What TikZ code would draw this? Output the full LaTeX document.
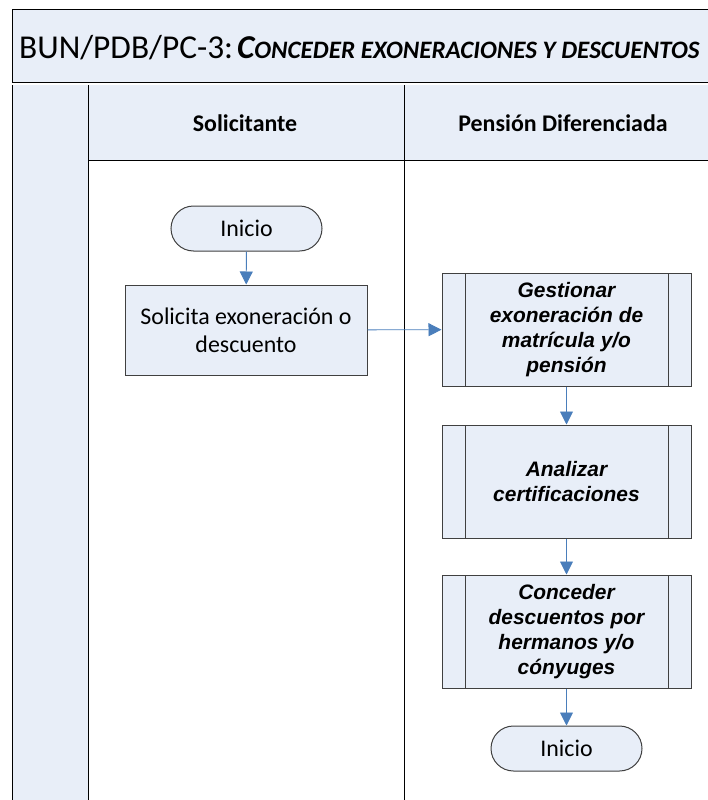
\documentclass[tikz,border=0pt]{standalone}
\usepackage{fontspec}
\setmainfont{Carlito}
\newfontfamily\arialf{Liberation Sans}
\usetikzlibrary{arrows.meta}
\definecolor{fillb}{HTML}{E8EEF8}
\definecolor{arrowb}{HTML}{4A7EBB}
\definecolor{edgec}{HTML}{404040}
\tikzset{
  lane/.style={draw=black, line width=1bp},
  shapebase/.style={draw=edgec, fill=fillb, line width=1bp, align=center, inner sep=0pt},
  terminal/.style={shapebase, rounded corners=22.5bp, minimum width=151bp, minimum height=45bp, font=\fontsize{24}{28}\selectfont},
  task/.style={shapebase, minimum width=242bp, minimum height=90bp, font=\fontsize{24}{28}\selectfont},
  subproc/.style={shapebase, minimum width=249bp, minimum height=113bp,
    font=\arialf\bfseries\itshape\fontsize{21}{25}\selectfont,
    path picture={
      \draw[edgec, line width=1bp] ([xshift=23bp]path picture bounding box.north west) -- ([xshift=23bp]path picture bounding box.south west);
      \draw[edgec, line width=1bp] ([xshift=-23bp]path picture bounding box.north east) -- ([xshift=-23bp]path picture bounding box.south east);
    }},
  flow/.style={draw=arrowb, line width=0.9bp, -{Triangle[length=13bp,width=13bp]}},
  header/.style={font=\bfseries\fontsize{24}{28}\selectfont}
}
\begin{document}
\begin{tikzpicture}[x=1bp,y=-1bp]
\useasboundingbox (0,0) rectangle (708,800);
\begin{scope}
\clip (0,0) rectangle (708,800);
% title box
\fill[fillb] (12,10) rectangle (720,82.5);
\draw[lane] (720,10) -- (12,10) -- (12,82.5) -- (720,82.5);
\draw[lane] (12,85) -- (720,85);
% left column and header
\fill[fillb] (12,85) rectangle (88,810);
\fill[fillb] (88,85) rectangle (720,160);
\draw[lane] (12,85) -- (12,810);
\draw[lane] (88,85) -- (88,810);
\draw[lane] (88,160.5) -- (720,160.5);
\draw[lane] (404,85) -- (404,810);
\end{scope}
\node[anchor=base west, inner sep=0pt, font=\fontsize{33.5}{34}\selectfont] (title) at (19,59)
  {BUN/PDB/PC-3:\hspace{4bp}{\bfseries\itshape C\fontsize{25.2}{26}\selectfont ONCEDER EXONERACIONES Y DESCUENTOS}};
\node[header] (h1) at (245,123) {Solicitante};
\node[header] (h2) at (563,123) {Pensión Diferenciada};
% shapes
\node[terminal] (start) at (246.5,228.5) {Inicio};
\node[task] (sol) at (246,330) {Solicita exoneración o\\descuento};
\node[subproc] (gest) at (566.5,329.5) {Gestionar\\exoneración de\\matrícula y/o\\pensión};
\node[subproc] (ana) at (566.5,481.5) {Analizar\\certificaciones};
\node[subproc] (conc) at (566.5,631.5) {Conceder\\descuentos por\\hermanos y/o\\cónyuges};
\node[terminal] (fin) at (566.5,748.5) {Inicio};
% connectors
\draw[flow] (start) -- (sol);
\draw[flow] (sol) -- (gest);
\draw[flow] (gest) -- (ana);
\draw[flow] (ana) -- (conc);
\draw[flow] (conc) -- (fin);
\end{tikzpicture}
\end{document}
